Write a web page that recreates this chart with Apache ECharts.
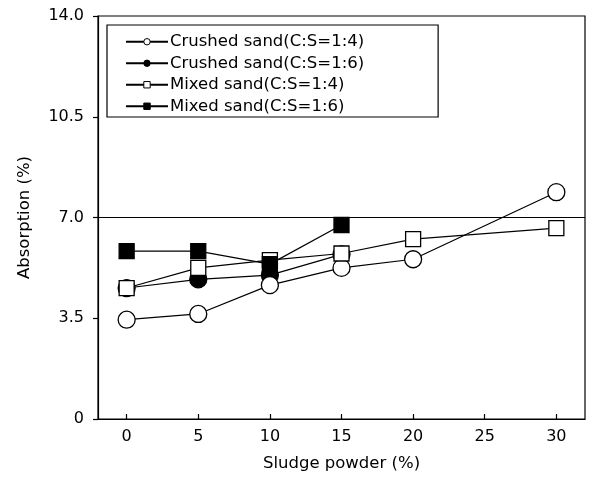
<!DOCTYPE html>
<html><head><meta charset="utf-8">
<script src="https://cdn.jsdelivr.net/npm/echarts@6/dist/echarts.min.js"></script>
<style>html,body{margin:0;padding:0;background:#fff}#c{width:590px;height:479px}</style>
</head><body><div id="c"></div>
<script>
var xTicks = [0, 5, 10, 15, 20, 25, 30];
var seriesNames = ['Crushed sand(C:S=1:4)', 'Crushed sand(C:S=1:6)', 'Mixed sand(C:S=1:4)', 'Mixed sand(C:S=1:6)'];
var crushed14 = [[0, 3.45], [5, 3.65], [10, 4.65], [15, 5.25], [20, 5.55], [30, 7.88]];
var crushed16 = [[0, 4.55], [5, 4.85], [10, 5.0], [15, 5.72]];
var mixed14 = [[0, 4.55], [5, 5.25], [10, 5.52], [15, 5.75], [20, 6.25], [30, 6.63]];
var mixed16 = [[0, 5.83], [5, 5.83], [10, 5.38], [15, 6.74]];
var refLine = 7.0;

var F = 'DejaVu Sans, sans-serif';
function mk(name, data, symbol, size, filled, z) {
  return {
    name: name, type: 'line', data: data, symbol: symbol, symbolSize: size,
    z: z,
    lineStyle: {color: '#000', width: 1.2},
    itemStyle: {color: filled ? '#000' : '#fff', borderColor: '#000', borderWidth: 1.3},
    emphasis: {disabled: true}, animation: false
  };
}
var series = [
  mk(seriesNames[1], crushed16, 'circle', 17, true, 2),
  mk(seriesNames[0], crushed14, 'circle', 17, false, 3),
  mk(seriesNames[2], mixed14, 'rect', 15, false, 4),
  mk(seriesNames[3], mixed16, 'rect', 15, true, 5)
];
series[0].markLine = {
  silent: true, symbol: ['none', 'none'], label: {show: false},
  lineStyle: {color: '#000', width: 1.2, type: 'solid'},
  data: [{yAxis: refLine}]
};
var chart = echarts.init(document.getElementById('c'));
chart.setOption({
  animation: false,
  backgroundColor: '#fff',
  grid: {left: 98, top: 16, right: 5, bottom: 60, show: true, borderColor: '#000', borderWidth: 1.2, backgroundColor: 'transparent'},
  legend: {
    data: seriesNames, orient: 'vertical', left: 107, top: 25,
    padding: [7, 74, 1, 18], itemGap: 2, itemWidth: 42, itemHeight: 8,
    borderColor: '#000', borderWidth: 1.2, backgroundColor: '#fff',
    textStyle: {fontFamily: F, fontSize: 16.5, color: '#000', padding: [0, 0, 0, -3], lineHeight: 19.5},
    itemStyle: {borderWidth: 1}
  },
  xAxis: {
    type: 'value', min: -2, max: 32,
    name: 'Sludge powder (%)', nameLocation: 'middle', nameGap: 36,
    nameTextStyle: {fontFamily: F, fontSize: 16.5, color: '#000'},
    axisLine: {onZero: false, lineStyle: {color: '#000', width: 1.2}},
    axisTick: {inside: true, length: 5, customValues: xTicks, lineStyle: {color: '#000', width: 1.2}},
    axisLabel: {customValues: xTicks, fontFamily: F, fontSize: 16, color: '#000', margin: 10},
    splitLine: {show: false}
  },
  yAxis: {
    type: 'value', min: 0, max: 14, interval: 3.5,
    name: 'Absorption (%)', nameLocation: 'middle', nameGap: 65,
    nameTextStyle: {fontFamily: F, fontSize: 16.5, color: '#000'},
    axisLine: {show: true, onZero: false, lineStyle: {color: '#000', width: 1.2}},
    axisTick: {show: true, length: 5, lineStyle: {color: '#000', width: 1.2}},
    axisLabel: {fontFamily: F, fontSize: 16, color: '#000', margin: 14,
      formatter: function (v) { return v === 0 ? '0' : v.toFixed(1); }},
    splitLine: {show: false}
  },
  series: series
});
</script></body></html>
